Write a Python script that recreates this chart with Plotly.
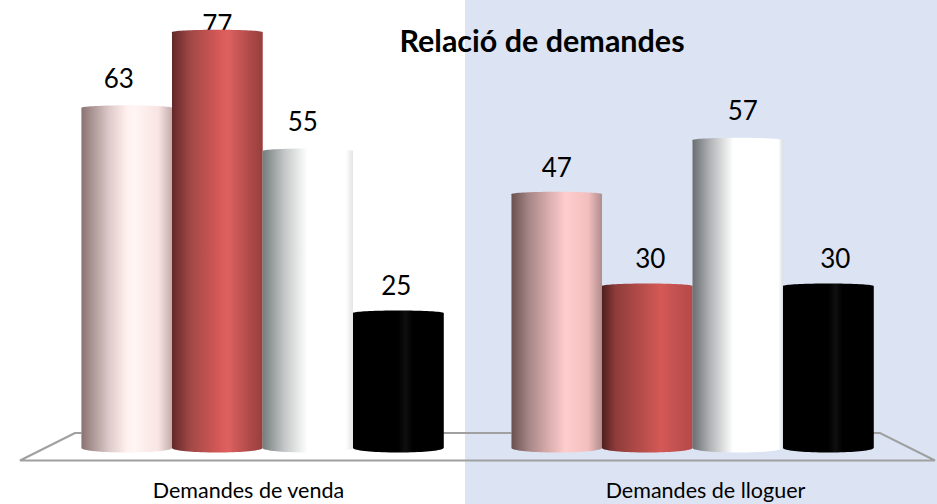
import numpy as np
import plotly.graph_objects as go

# ---- data ----
categories = ["Demandes de venda", "Demandes de lloguer"]
series_names = ["Sèrie 1", "Sèrie 2", "Sèrie 3", "Sèrie 4"]
serie_1 = [63, 47]
serie_2 = [77, 30]
serie_3 = [55, 57]
serie_4 = [25, 30]
all_series = [serie_1, serie_2, serie_3, serie_4]
title_text = "Relació de demandes"

# ---- style ----
W, H = 937, 504
FONT = "Lato, Carlito, Calibri, sans-serif"
BAR_SPACING_PX = 430
ZERO_X_PX, ZERO_Y_PX = 262.5, 448
PX_PER_UNIT = 5.40
BAR_GAP = 0.158
TOP_CAP, BOTTOM_CAP = 0.46, 0.83
N_ARC = 40
LABEL_LIFT_PX = 26
LABEL_NUDGE_X_PX = [[-8, 0], [0, 3], [-5, 5], [-2, 7]]
LABEL_NUDGE_Y_PX = [[0, -2], [-1, -1], [1, 1], [-1, -1]]
TICK_NUDGE_PX = [-14, 13]

gradients = [
    [[(0, "#8a7272"), (.12, "#ab9595"), (.3, "#dcc8c8"), (.5, "#fff0ee"), (.58, "#fff6f4"), (.85, "#f8e4e3"), (1, "#c4acac")],
     [(0, "#6a5050"), (.2, "#a98888"), (.42, "#dcaeae"), (.6, "#ffcdcd"), (.85, "#f2bebe"), (1, "#b08c8c")]],
    [[(0, "#642828"), (.2, "#a04846"), (.5, "#d25856"), (.62, "#de6160"), (.85, "#b04b49"), (1, "#963f3e")],
     [(0, "#4f1f1f"), (.15, "#8e3c3a"), (.65, "#d45956"), (.85, "#c05050"), (1, "#b54848")]],
    [[(0, "#737c7c"), (.25, "#c6c9c9"), (.5, "#ffffff"), (.92, "#ffffff"), (1, "#e4e4e4")],
     [(0, "#6a6e72"), (.2, "#b3b5b7"), (.45, "#ffffff"), (.95, "#ffffff"), (1, "#d8dde2")]],
    [[(0, "#000000"), (.5, "#000000"), (.58, "#0f0f0f"), (.66, "#000000"), (1, "#000000")],
     [(0, "#000000"), (.5, "#000000"), (.58, "#0f0f0f"), (.66, "#000000"), (1, "#000000")]],
]
base_colors = ["#f0dcdc", "#c25250", "#e8eaea", "#000000"]

x_range = [-ZERO_X_PX / BAR_SPACING_PX, (W - ZERO_X_PX) / BAR_SPACING_PX]
y_range = [-(H - ZERO_Y_PX) / PX_PER_UNIT, ZERO_Y_PX / PX_PER_UNIT]
group_x = list(range(len(categories)))
tick_x = [g + d / BAR_SPACING_PX for g, d in zip(group_x, TICK_NUDGE_PX)]

fig = go.Figure()

# value labels sit on the lower subplot, so the bars can cover them
n = len(all_series)
bar_w = (1 - BAR_GAP) / n
for i, (name, vals) in enumerate(zip(series_names, all_series)):
    cx = [g + (i - (n - 1) / 2) * bar_w + LABEL_NUDGE_X_PX[i][g] / BAR_SPACING_PX for g in group_x]
    ly = [min(v + LABEL_LIFT_PX / PX_PER_UNIT, 78.0) + LABEL_NUDGE_Y_PX[i][g] / PX_PER_UNIT
          for g, v in zip(group_x, vals)]
    fig.add_trace(go.Scatter(
        x=cx, y=ly, mode="text",
        text=[str(v) for v in vals], textposition="middle center",
        textfont=dict(family=FONT, size=26, color="#000"),
        showlegend=False, hoverinfo="skip", xaxis="x", yaxis="y"))

# real bars
for i, (name, vals) in enumerate(zip(series_names, all_series)):
    fig.add_trace(go.Bar(
        x=group_x, y=vals, name=name, marker=dict(color=base_colors[i], line_width=0),
        showlegend=False, xaxis="x", yaxis="y2"))

# cylinder shading on top of each bar
theta = np.linspace(0, np.pi, N_ARC)
for i, vals in enumerate(all_series):
    for g, v in zip(group_x, vals):
        cx = g + (i - (n - 1) / 2) * bar_w
        xs_top = cx - bar_w / 2 * np.cos(theta)
        ys_top = v + TOP_CAP * np.sin(theta)
        xs_bot = cx + bar_w / 2 * np.cos(theta)
        ys_bot = -BOTTOM_CAP * np.sin(theta)
        fig.add_trace(go.Scatter(
            x=np.r_[xs_top, xs_bot, xs_top[0]], y=np.r_[ys_top, ys_bot, ys_top[0]],
            mode="none", fill="toself",
            fillgradient=dict(type="horizontal", colorscale=gradients[i][g]),
            showlegend=False, hoverinfo="skip", xaxis="x", yaxis="y2"))

def px(x):
    return x / W

def py(y):
    return 1 - y / H

floor = (f"M {px(75)} {py(433)} L {px(20)} {py(460.5)} L {px(935)} {py(460.5)} "
         f"L {px(880)} {py(433)} Z")

fig.update_layout(
    width=W, height=H, margin=dict(l=0, r=0, t=0, b=0),
    paper_bgcolor="#ffffff", plot_bgcolor="rgba(0,0,0,0)",
    barmode="group", bargap=BAR_GAP, bargroupgap=0,
    font=dict(family=FONT, color="#000"),
    title=dict(text=f"<b>{title_text}</b>", x=542 / W, y=py(41), xanchor="center",
               yanchor="middle", xref="paper", yref="paper",
               font=dict(family=FONT, size=30.5, color="#000")),
    xaxis=dict(range=x_range, tickmode="array", tickvals=tick_x, ticktext=categories,
               showgrid=False, zeroline=False, showline=False, ticks="",
               anchor="free", position=py(475),
               tickfont=dict(family=FONT, size=21.5, color="#000")),
    yaxis=dict(range=y_range, visible=False, domain=[0, 1]),
    yaxis2=dict(range=y_range, visible=False, overlaying="y", anchor="x"),
    shapes=[
        dict(type="rect", xref="paper", yref="paper", x0=465 / W, x1=1, y0=0, y1=1,
             fillcolor="#dce4f3", line_width=0, layer="below"),
        dict(type="path", xref="paper", yref="paper", path=floor,
             line=dict(color="#a0a0a0", width=2), layer="below"),
    ],
)

fig.write_html("out.html", config=dict(displayModeBar=False),
               post_script="document.body.style.margin='0';document.body.style.overflow='hidden';")
